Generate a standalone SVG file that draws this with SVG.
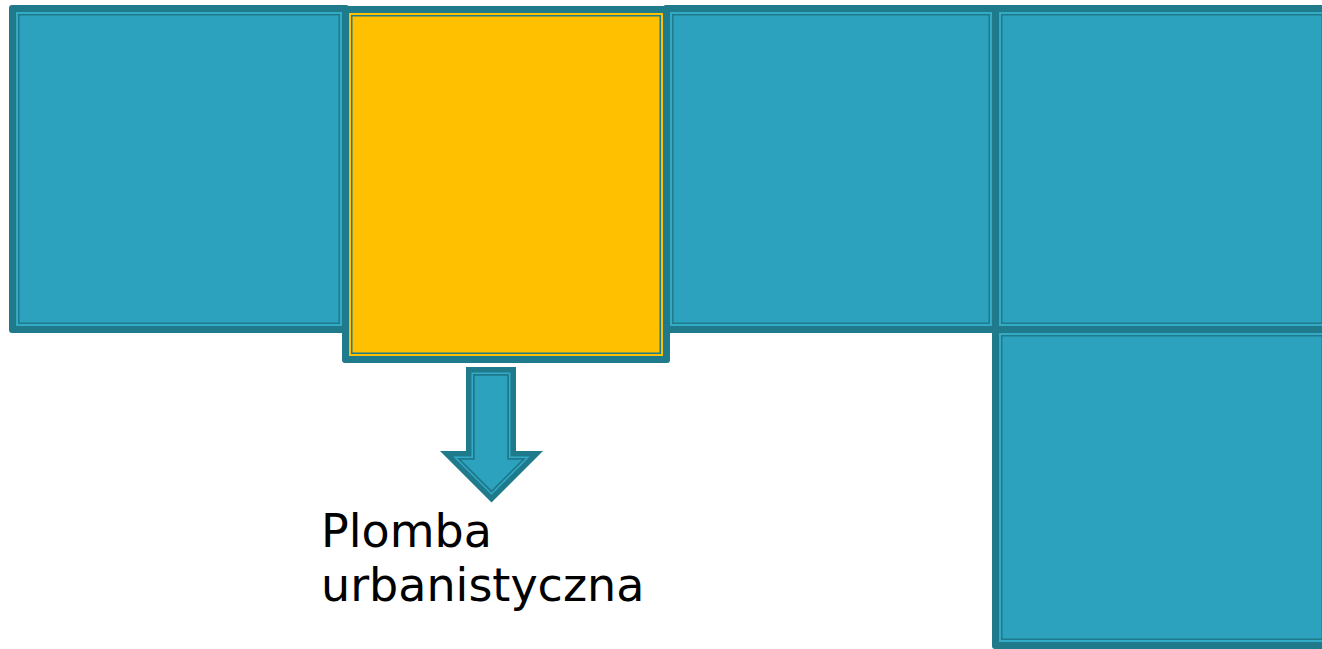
<svg xmlns="http://www.w3.org/2000/svg" width="1322" height="649" viewBox="0 0 1322 649">
  <style>
    .edge { fill: #1f7a8c; }
    .band { fill: #33abc7; }
    .line { fill: #1f7a8c; }
    .face { fill: #2ca2be; }
    .yband { fill: #ffc000; }
    .yface { fill: #ffc000; }
    .label { font-family: "DejaVu Sans", "Liberation Sans", sans-serif; font-size: 46px; fill: #000000; }
  </style>
  <rect width="1322" height="649" fill="#ffffff"/>

  <!-- teal blocks: thick outer edge, thin light band, thin dark line, face -->
  <g id="block-left">
    <rect class="edge" x="9" y="5" width="340" height="328" rx="3"/>
    <rect class="band" x="16" y="12" width="326" height="314"/>
    <rect class="line" x="18" y="14" width="322" height="310"/>
    <rect class="face" x="19.5" y="15.5" width="319" height="307"/>
  </g>

  <g id="block-middle">
    <rect class="edge" x="663" y="5" width="336" height="328" rx="3"/>
    <rect class="band" x="670" y="12" width="322" height="314"/>
    <rect class="line" x="672" y="14" width="318" height="310"/>
    <rect class="face" x="673.5" y="15.5" width="315" height="307"/>
  </g>

  <g id="block-right-top">
    <rect class="edge" x="992" y="5" width="340" height="328" rx="3"/>
    <rect class="band" x="999" y="12" width="326" height="314"/>
    <rect class="line" x="1001" y="14" width="322" height="310"/>
    <rect class="face" x="1002.5" y="15.5" width="319" height="307"/>
  </g>

  <g id="block-right-bottom">
    <rect class="edge" x="992" y="326" width="340" height="323" rx="3"/>
    <rect class="band" x="999" y="333" width="326" height="309"/>
    <rect class="line" x="1001" y="335" width="322" height="305"/>
    <rect class="face" x="1002.5" y="336.5" width="319" height="302"/>
  </g>

  <!-- highlighted block -->
  <g id="block-highlight">
    <rect class="edge" x="342" y="6" width="328" height="357" rx="3"/>
    <rect class="yband" x="349" y="13" width="314" height="343"/>
    <rect class="line" x="351" y="15" width="310" height="339"/>
    <rect class="yface" x="352.5" y="16.5" width="307" height="336"/>
  </g>

  <g id="connectors">
    <g id="arrow-down">
      <polygon class="edge" points="466,367 516,367 516,451 543,451 491.5,502.5 440,451 466,451"/>
      <polygon points="472.25,373.25 509.75,373.25 509.75,457.25 527.91,457.25 491.5,493.66 455.09,457.25 472.25,457.25" fill="none" stroke="#33abc7" stroke-width="1.5" stroke-linejoin="miter"/>
      <polygon points="474,375 508,375 508,459 523.69,459 491.5,491.19 459.31,459 474,459" fill="#2ca2be" stroke="#1f7a8c" stroke-width="1.5" stroke-linejoin="miter"/>
    </g>
  </g>

  <g id="caption">
    <text class="label" x="321" y="547">Plomba</text>
    <text class="label" x="321" y="601">urbanistyczna</text>
  </g>
</svg>
